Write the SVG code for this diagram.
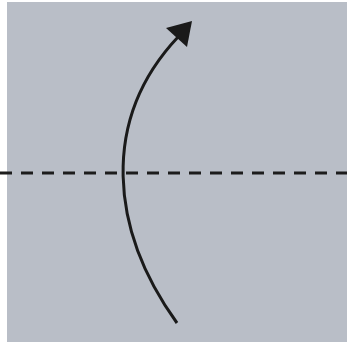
<svg xmlns="http://www.w3.org/2000/svg" width="347" height="348" viewBox="0 0 347 348">
<defs>
<style>
.paper{fill:#b9bec7}
.fold{stroke:#1c1c1c;stroke-width:3;stroke-dasharray:12 9;fill:none}
.arrow{stroke:#1a1a1a;stroke-width:3;fill:none}
.head{fill:#1a1a1a}
</style>
</defs>
<rect width="347" height="348" fill="#ffffff"/>
<rect class="paper" x="7" y="2" width="340" height="340"/>
<line class="fold" x1="0" y1="173" x2="347" y2="173"/>
<path class="arrow" d="M177,323 C110,230 100,120 178,37"/>
<polygon class="head" points="192,21 166,28 187,47"/>
</svg>
